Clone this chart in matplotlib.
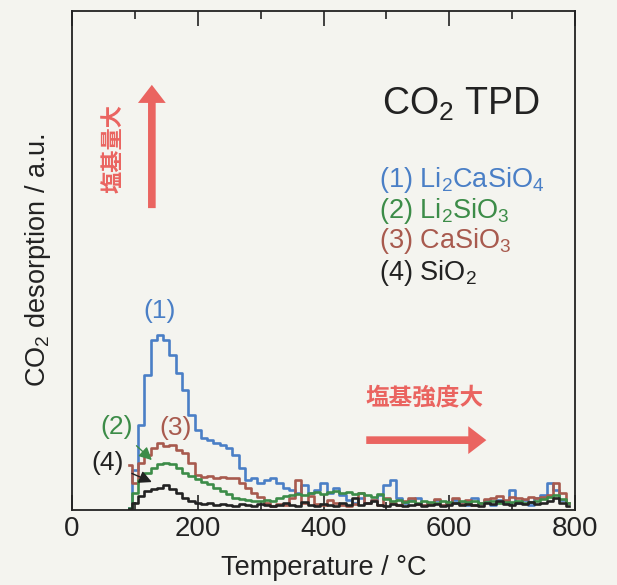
import numpy as np
import matplotlib
matplotlib.use("Agg")
import matplotlib.pyplot as plt
from matplotlib.ticker import MultipleLocator

plt.rcParams['font.family'] = ['Liberation Sans', 'DejaVu Sans']
plt.rcParams['mathtext.fontset'] = 'custom'
plt.rcParams['mathtext.rm'] = 'Liberation Sans'

# temperature grid (°C)
temp = np.arange(90, 800, 10)

# (1) Li2CaSiO4
li2casio4 = [0.5, 8, 17, 27, 34, 35, 34, 31, 27.5, 24,
             19, 16, 14.5, 14, 13.5, 13, 12.5, 11, 8.5, 6,
             6.5, 5.5, 6, 6.5, 5.5, 4.5, 4, 3.5, 5, 3.5,
             4, 5.5, 3.5, 4.5, 3, 2, 1.5, 2.5, 1.5, 2,
             3, 5, 6, 2.5, 1.5, 2, 2.5, 1, 1.5, 2,
             1, 1.5, 2, 1.5, 1, 2.5, 1.5, 2, 1, 2,
             1.5, 4, 1.5, 2, 1, 2.5, 3, 5.5, 4, 2, 1.5]
# (2) Li2SiO3
li2sio3 = [0.5, 3.5, 6, 7.5, 8.5, 9.3, 9.5, 9.3, 8.5, 7.5,
           6.8, 6.2, 5.6, 5.2, 4.5, 3.8, 3.2, 2.5, 2.2, 2,
           1.8, 1.8, 2, 1.8, 2.5, 2.8, 3, 3.2, 3, 3.4,
           3.6, 3.2, 3.6, 3.8, 3.4, 3.6, 3.2, 3.5, 3, 2.6,
           3.2, 2.2, 1.8, 2, 1.6, 1.8, 1.5, 1.8, 1.6, 1.4,
           1.8, 1.6, 1.5, 1.8, 1.6, 1.8, 1.5, 1.6, 1.8, 1.5,
           1.7, 1.6, 1.8, 1.5, 1.7, 1.9, 2.2, 2.6, 3, 2.2, 1.5]
# (3) CaSiO3
casio3 = [9, 5.5, 9.5, 11, 12.5, 13.5, 12.8, 13, 12, 11.5,
          9.5, 7, 6.6, 6.8, 6.5, 6.6, 6.4, 6.5, 5.5, 4.5,
          3.5, 2.6, 1.5, 0.8, 1.2, 1, 2.5, 6, 1.5, 2.8,
          1.2, 1, 2, 1.5, 1, 0.8, 1.2, 3.5, 1.5, 2,
          1, 2.5, 1.5, 1, 1.8, 2.4, 1.2, 1, 1.5, 2.2,
          1, 1.5, 2.5, 1.2, 2, 1, 1.5, 2.2, 2.5, 2.8,
          2, 2.6, 2.4, 2.2, 2.6, 2.4, 2.6, 3, 5.5, 3.5, 1.5]
# (4) SiO2
sio2 = [0.3, 1.5, 2.8, 3.8, 4.2, 4.5, 5, 4.2, 3.5, 2.5,
        1.8, 1.5, 1.2, 1.5, 1, 1.2, 1, 0.8, 1.2, 1,
        0.8, 1.2, 1, 0.8, 1, 1.5, 1, 0.8, 1.6, 1,
        0.8, 1.2, 1, 0.8, 1.4, 1, 2.5, 1, 1.5, 1.8,
        1, 0.8, 1.2, 1, 0.8, 1, 1.2, 0.8, 1, 1.2,
        0.8, 1, 1.4, 1, 1.2, 1, 0.8, 1.5, 1.2, 1.8,
        1.2, 1, 1.4, 1.2, 1.6, 1.2, 1.5, 1.8, 2.5, 1.5, 0.8]

c_blue = '#4a7fc6'
c_green = '#3c8c48'
c_red = '#a85a4e'
c_black = '#222222'
c_arrow = '#ea6460'
bg = '#f4f4ef'

fig = plt.figure(figsize=(6.17, 5.85), dpi=100, facecolor=bg)
ax = fig.add_axes([72/617, 75/585, 503/617, 499/585], facecolor=bg)

ax.plot(temp, li2casio4, color=c_blue, lw=1.9, drawstyle='steps-mid')
ax.plot(temp, casio3, color=c_red, lw=1.9, drawstyle='steps-mid')
ax.plot(temp, li2sio3, color=c_green, lw=1.9, drawstyle='steps-mid')
ax.plot(temp, sio2, color=c_black, lw=1.9, drawstyle='steps-mid')

ax.set_xlim(0, 800)
ax.set_ylim(0, 100)
ax.xaxis.set_major_locator(MultipleLocator(200))
ax.xaxis.set_minor_locator(MultipleLocator(100))
ax.tick_params(axis='x', which='major', direction='in', top=True, length=11,
               width=1.2, labelsize=20, pad=4, colors='#222222')
ax.tick_params(axis='x', which='minor', direction='in', top=True, length=6,
               width=1.2, colors='#222222')
ax.set_yticks([])
for s in ax.spines.values():
    s.set_linewidth(1.3)
    s.set_color('#222222')

ax.set_xlabel('Temperature / °C', fontsize=19.5, labelpad=10, color='#222222')
ax.set_ylabel(r'CO$\mathregular{_2}$ desorption / a.u.', fontsize=19.5,
              labelpad=14, color='#222222')

ax.text(493, 79.2, r'CO$\mathregular{_2}$ TPD', fontsize=27, color='#222222',
        va='baseline')
legend_items = [
    (r'(1) Li$\mathregular{_2}$CaSiO$\mathregular{_4}$', c_blue, 64.8),
    (r'(2) Li$\mathregular{_2}$SiO$\mathregular{_3}$', c_green, 58.5),
    (r'(3) CaSiO$\mathregular{_3}$', c_red, 52.5),
    (r'(4) SiO$\mathregular{_2}$', c_black, 46.1),
]
for txt, col, yv in legend_items:
    ax.text(489, yv, txt, fontsize=19.5, color=col, va='baseline')

# peak labels
ax.text(140, 39.9, '(1)', fontsize=19, color=c_blue, ha='center', va='center')
ax.text(165, 16.4, '(3)', fontsize=19, color=c_red, ha='center', va='center')
ax.annotate('(2)', xy=(127, 10), xytext=(71, 16.6), fontsize=19, color=c_green,
            ha='center', va='center',
            arrowprops=dict(arrowstyle='-|>,head_length=0.4,head_width=0.2',
                            color=c_green, lw=1, shrinkA=4, shrinkB=0))
ax.annotate('(4)', xy=(127, 5.6), xytext=(57, 9.4), fontsize=19, color=c_black,
            ha='center', va='center',
            arrowprops=dict(arrowstyle='-|>,head_length=0.4,head_width=0.2',
                            color=c_black, lw=1, shrinkA=4, shrinkB=0))

# arrows
arrow_style = 'simple,head_length=1.3,head_width=2.0,tail_width=0.55'
ax.annotate('', xy=(127, 85.2), xytext=(127, 60.5),
            arrowprops=dict(arrowstyle=arrow_style, color=c_arrow, lw=0,
                            mutation_scale=10, shrinkA=0, shrinkB=0))
ax.annotate('', xy=(659, 14), xytext=(468, 14),
            arrowprops=dict(arrowstyle=arrow_style, color=c_arrow, lw=0,
                            mutation_scale=10, shrinkA=0, shrinkB=0))
cjk = ['Noto Sans CJK JP', 'DejaVu Sans']
ax.text(65, 72.5, '塩基量大', family=cjk, fontsize=16, fontweight='bold',
        color=c_arrow, rotation=90, ha='center', va='center')
ax.text(560, 22.6, '塩基強度大', family=cjk, fontsize=17, fontweight='bold',
        color=c_arrow, ha='center', va='center')

fig.savefig('out.png', dpi=100, facecolor=bg)
